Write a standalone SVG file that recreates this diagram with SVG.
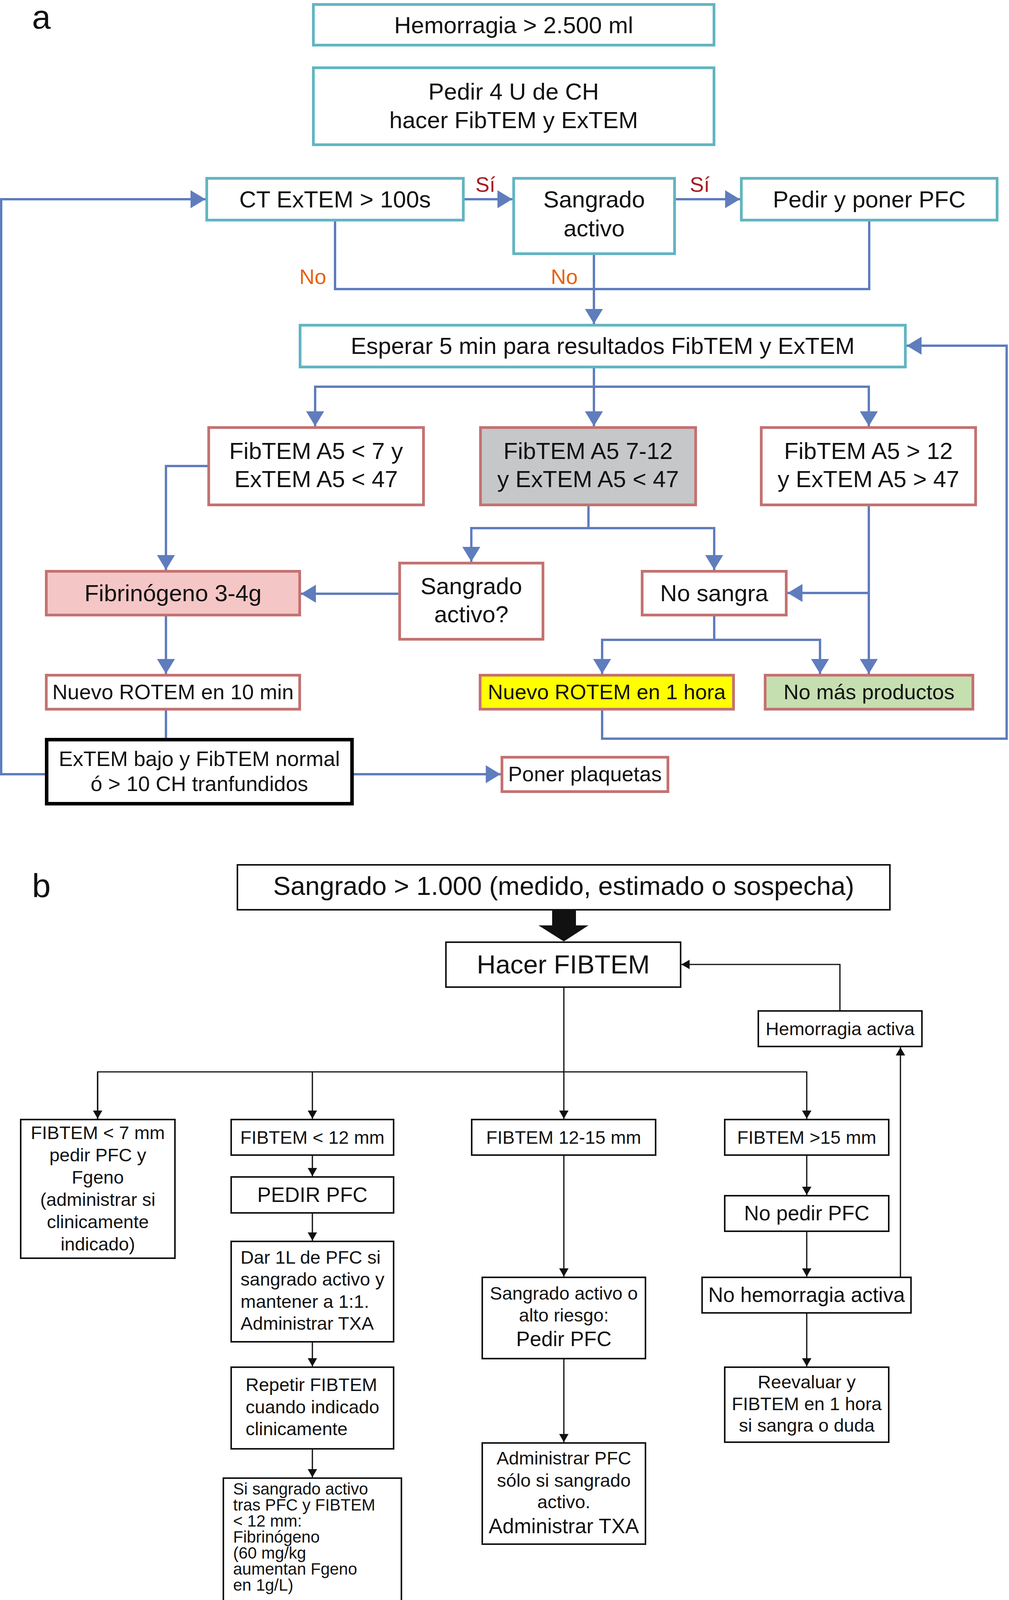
<svg xmlns="http://www.w3.org/2000/svg" width="2584" height="4222" viewBox="0 0 2584 4222">
<style>
text{font-family:"Liberation Sans",Arial,Helvetica,sans-serif;fill:#111;}
.c{text-anchor:middle;}
.f60{font-size:60px;}
.f54{font-size:54px;}
.f47{font-size:47px;}
.f42{font-size:42px;}
.f53{font-size:53px;}
.f67{font-size:67px;}
.teal{fill:#fff;stroke:#62b5c2;stroke-width:7;}
.red{fill:#fff;stroke:#c47272;stroke-width:7;}
.blk{fill:#fff;stroke:#111;stroke-width:4;}
.bl{fill:none;stroke:#5f7dbd;stroke-width:6;}
.bk{fill:none;stroke:#111;stroke-width:3.2;}
.si{fill:#a31c22;font-size:54px;}
.no{fill:#e8620f;font-size:54px;}
</style>
<defs>
<marker id="ab" markerUnits="userSpaceOnUse" viewBox="0 0 38 46" markerWidth="38" markerHeight="46" refX="38" refY="23" orient="auto"><path d="M0,0 L38,23 L0,46 z" fill="#5f7dbd"/></marker>
<marker id="ak" markerUnits="userSpaceOnUse" viewBox="0 0 21 24" markerWidth="21" markerHeight="24" refX="21" refY="12" orient="auto"><path d="M0,0 L21,12 L0,24 z" fill="#111"/></marker>
</defs>
<rect width="2584" height="4222" fill="#fff"/>
<text x="82" y="73" style="font-size:86px">a</text>
<text x="82" y="2297" style="font-size:86px">b</text>

<!-- Panel a nodes -->
<g id="a-hemorragia"><rect class="teal" x="802.5" y="11.5" width="1026" height="104"/><text class="c f60" x="1315.5" y="85">Hemorragia &gt; 2.500 ml</text></g>
<g id="a-pedir4u"><rect class="teal" x="802.5" y="173.5" width="1026" height="197"/><text class="c f60" x="1315.5" y="255">Pedir 4 U de CH</text><text class="c f60" x="1315.5" y="328">hacer FibTEM y ExTEM</text></g>
<g id="a-ct"><rect class="teal" x="529.5" y="456.5" width="657" height="107"/><text class="c f60" x="858" y="531">CT ExTEM &gt; 100s</text></g>
<g id="a-sangrado"><rect class="teal" x="1315.5" y="456.5" width="412" height="193"/><text class="c f60" x="1521.5" y="531">Sangrado</text><text class="c f60" x="1521.5" y="605">activo</text></g>
<g id="a-pfc"><rect class="teal" x="1898.5" y="456.5" width="655" height="107"/><text class="c f60" x="2226" y="531">Pedir y poner PFC</text></g>
<g id="a-esperar"><rect class="teal" x="768.5" y="832.5" width="1550" height="107"/><text class="c f60" x="1543.5" y="906">Esperar 5 min para resultados FibTEM y ExTEM</text></g>
<g id="a-fib7"><rect class="red" x="534.5" y="1094.5" width="550" height="198"/><text class="c f60" x="809.5" y="1175">FibTEM A5 &lt; 7 y</text><text class="c f60" x="809.5" y="1247">ExTEM A5 &lt; 47</text></g>
<g id="a-fib712"><rect class="red" style="fill:#c6c7c9" x="1230.5" y="1094.5" width="551" height="198"/><text class="c f60" x="1506" y="1175">FibTEM A5 7-12</text><text class="c f60" x="1506" y="1247">y ExTEM A5 &lt; 47</text></g>
<g id="a-fib12"><rect class="red" x="1949.5" y="1094.5" width="549" height="198"/><text class="c f60" x="2224" y="1175">FibTEM A5 &gt; 12</text><text class="c f60" x="2224" y="1247">y ExTEM A5 &gt; 47</text></g>
<g id="a-fibrinogeno"><rect class="red" style="fill:#f5c6c6" x="118.5" y="1462.5" width="649" height="112"/><text class="c f60" x="443" y="1539">Fibrinógeno 3-4g</text></g>
<g id="a-sangrado2"><rect class="red" x="1023.5" y="1441.5" width="367" height="195"/><text class="c f60" x="1207" y="1521">Sangrado</text><text class="c f60" x="1207" y="1593">activo?</text></g>
<g id="a-nosangra"><rect class="red" x="1644.5" y="1462.5" width="369" height="112"/><text class="c f60" x="1829" y="1539">No sangra</text></g>
<g id="a-rotem10"><rect class="red" x="118.5" y="1728.5" width="649" height="87"/><text class="c f54" x="443" y="1790">Nuevo ROTEM en 10 min</text></g>
<g id="a-rotem1h"><rect class="red" style="fill:#ffff00" x="1229.5" y="1728.5" width="649" height="87"/><text class="c f54" x="1554" y="1790">Nuevo ROTEM en 1 hora</text></g>
<g id="a-nomas"><rect class="red" style="fill:#c6dfb0" x="1959.5" y="1728.5" width="532" height="87"/><text class="c f54" x="2225.5" y="1790">No más productos</text></g>
<g id="a-extembajo"><rect x="119.5" y="1893.5" width="782" height="164" fill="#fff" stroke="#000" stroke-width="9"/><text class="c f54" x="510.5" y="1961">ExTEM bajo y FibTEM normal</text><text class="c f54" x="510.5" y="2025">ó &gt; 10 CH tranfundidos</text></g>
<g id="a-plaquetas"><rect class="red" x="1285.5" y="1938.5" width="425" height="88"/><text class="c f54" x="1498" y="2000">Poner plaquetas</text></g>

<!-- Panel a connectors -->
<g id="a-connectors">
<path class="bl" d="M115,1982 H3 V510 H526" marker-end="url(#ab)"/>
<path class="bl" d="M1190,510 H1312" marker-end="url(#ab)"/>
<path class="bl" d="M1731,510 H1895" marker-end="url(#ab)"/>
<path class="bl" d="M858,567 V740 H2226 V567"/>
<path class="bl" d="M1521,653 V829" marker-end="url(#ab)"/>
<path class="bl" d="M1521,943 V990 M807,990 H2225"/>
<path class="bl" d="M807,987 V1091" marker-end="url(#ab)"/>
<path class="bl" d="M1521,990 V1091" marker-end="url(#ab)"/>
<path class="bl" d="M2225,987 V1091" marker-end="url(#ab)"/>
<path class="bl" d="M531,1193 H425 V1459" marker-end="url(#ab)"/>
<path class="bl" d="M1507,1296 V1352 M1207,1352 H1829"/>
<path class="bl" d="M1207,1349 V1438" marker-end="url(#ab)"/>
<path class="bl" d="M1829,1349 V1459" marker-end="url(#ab)"/>
<path class="bl" d="M1020,1520 H771" marker-end="url(#ab)"/>
<path class="bl" d="M2225,1296 V1725" marker-end="url(#ab)"/>
<path class="bl" d="M2225,1518 H2017" marker-end="url(#ab)"/>
<path class="bl" d="M1829,1578 V1638 M1542,1638 H2100"/>
<path class="bl" d="M1542,1635 V1725" marker-end="url(#ab)"/>
<path class="bl" d="M2100,1635 V1725" marker-end="url(#ab)"/>
<path class="bl" d="M425,1578 V1725" marker-end="url(#ab)"/>
<path class="bl" d="M425,1819 V1889"/>
<path class="bl" d="M1542,1819 V1891 H2578 V885 H2322" marker-end="url(#ab)"/>
<path class="bl" d="M906,1982 H1282" marker-end="url(#ab)"/>
<text class="c si" x="1243" y="491">Sí</text>
<text class="c si" x="1792" y="491">Sí</text>
<text class="c no" x="801" y="727">No</text>
<text class="c no" x="1445" y="727">No</text>
</g>

<!-- Panel b nodes -->
<g id="b-sangrado"><rect class="blk" x="608" y="2214" width="1671" height="115"/><text class="c f67" x="1443.5" y="2291">Sangrado &gt; 1.000 (medido, estimado o sospecha)</text></g>
<g id="b-hacer"><rect class="blk" x="1142" y="2412" width="601" height="115"/><text class="c f67" x="1442.5" y="2492">Hacer FIBTEM</text></g>
<g id="b-hemactiva"><rect class="blk" x="1942" y="2588" width="419" height="91"/><text class="c f47" x="2151.5" y="2650">Hemorragia activa</text></g>
<g id="b-fib7"><rect class="blk" x="53" y="2866" width="395" height="355"/>
<text class="c f47" x="250.5" y="2916">FIBTEM &lt; 7 mm</text>
<text class="c f47" x="250.5" y="2973">pedir PFC y</text>
<text class="c f47" x="250.5" y="3030">Fgeno</text>
<text class="c f47" x="250.5" y="3087">(administrar si</text>
<text class="c f47" x="250.5" y="3144">clinicamente</text>
<text class="c f47" x="250.5" y="3201">indicado)</text></g>
<g id="b-fib12"><rect class="blk" x="592" y="2866" width="416" height="91"/><text class="c f47" x="800" y="2928">FIBTEM &lt; 12 mm</text></g>
<g id="b-pedirpfc"><rect class="blk" x="592" y="3013" width="416" height="92"/><text class="c f53" x="800" y="3077">PEDIR PFC</text></g>
<g id="b-dar1l"><rect class="blk" x="592" y="3178" width="416" height="257"/>
<text class="f47" x="616" y="3235">Dar 1L de PFC si</text>
<text class="f47" x="616" y="3291">sangrado activo y</text>
<text class="f47" x="616" y="3348">mantener a 1:1.</text>
<text class="f47" x="616" y="3404">Administrar TXA</text></g>
<g id="b-repetir"><rect class="blk" x="592" y="3500" width="416" height="209"/>
<text class="f47" x="629" y="3561">Repetir FIBTEM</text>
<text class="f47" x="629" y="3618">cuando indicado</text>
<text class="f47" x="629" y="3674">clinicamente</text></g>
<g id="b-sisangrado"><rect class="blk" x="572" y="3784" width="456" height="434"/>
<text class="f42" x="597" y="3826">Si sangrado activo</text>
<text class="f42" x="597" y="3867">tras PFC y FIBTEM</text>
<text class="f42" x="597" y="3908">&lt; 12 mm:</text>
<text class="f42" x="597" y="3949">Fibrinógeno</text>
<text class="f42" x="597" y="3990">(60 mg/kg</text>
<text class="f42" x="597" y="4031">aumentan Fgeno</text>
<text class="f42" x="597" y="4072">en 1g/L)</text></g>
<g id="b-fib1215"><rect class="blk" x="1208" y="2866" width="471" height="91"/><text class="c f47" x="1443.5" y="2928">FIBTEM 12-15 mm</text></g>
<g id="b-altoriesgo"><rect class="blk" x="1235" y="3270" width="418" height="208"/>
<text class="c f47" x="1444" y="3327">Sangrado activo o</text>
<text class="c f47" x="1444" y="3383">alto riesgo:</text>
<text class="c f53" x="1444" y="3446">Pedir PFC</text></g>
<g id="b-administrar"><rect class="blk" x="1235" y="3694" width="418" height="259"/>
<text class="c f47" x="1444" y="3749">Administrar PFC</text>
<text class="c f47" x="1444" y="3806">sólo si sangrado</text>
<text class="c f47" x="1444" y="3861">activo.</text>
<text class="c f53" x="1444" y="3925">Administrar TXA</text></g>
<g id="b-fib15"><rect class="blk" x="1856" y="2866" width="420" height="91"/><text class="c f47" x="2066" y="2928">FIBTEM &gt;15 mm</text></g>
<g id="b-nopedir"><rect class="blk" x="1856" y="3061" width="420" height="91"/><text class="c f53" x="2066" y="3124">No pedir PFC</text></g>
<g id="b-nohem"><rect class="blk" x="1798" y="3270" width="535" height="91"/><text class="c f53" x="2065.5" y="3333">No hemorragia activa</text></g>
<g id="b-reevaluar"><rect class="blk" x="1856" y="3500" width="420" height="192"/>
<text class="c f47" x="2066" y="3554">Reevaluar y</text>
<text class="c f47" x="2066" y="3610">FIBTEM en 1 hora</text>
<text class="c f47" x="2066" y="3665">si sangra o duda</text></g>

<!-- Panel b connectors -->
<g id="b-connectors">
<polygon points="1414,2331 1475,2331 1475,2369 1507,2369 1444,2410 1379,2369 1414,2369" fill="#111"/>
<path class="bk" d="M2151,2586 V2469 H1745" marker-end="url(#ak)"/>
<path class="bk" d="M1444,2529 V2864" marker-end="url(#ak)"/>
<path class="bk" d="M250,2864 V2744 H2066 V2864" marker-end="url(#ak)"/>
<path class="bk" d="M250,2746 V2864" marker-end="url(#ak)"/>
<path class="bk" d="M800,2744 V2864" marker-end="url(#ak)"/>
<path class="bk" d="M800,2959 V3011" marker-end="url(#ak)"/>
<path class="bk" d="M800,3107 V3176" marker-end="url(#ak)"/>
<path class="bk" d="M800,3437 V3498" marker-end="url(#ak)"/>
<path class="bk" d="M800,3711 V3782" marker-end="url(#ak)"/>
<path class="bk" d="M1444,2959 V3268" marker-end="url(#ak)"/>
<path class="bk" d="M1444,3480 V3692" marker-end="url(#ak)"/>
<path class="bk" d="M2066,2959 V3059" marker-end="url(#ak)"/>
<path class="bk" d="M2066,3154 V3268" marker-end="url(#ak)"/>
<path class="bk" d="M2066,3363 V3498" marker-end="url(#ak)"/>
<path class="bk" d="M2306,3268 V2681" marker-end="url(#ak)"/>
</g>
</svg>
